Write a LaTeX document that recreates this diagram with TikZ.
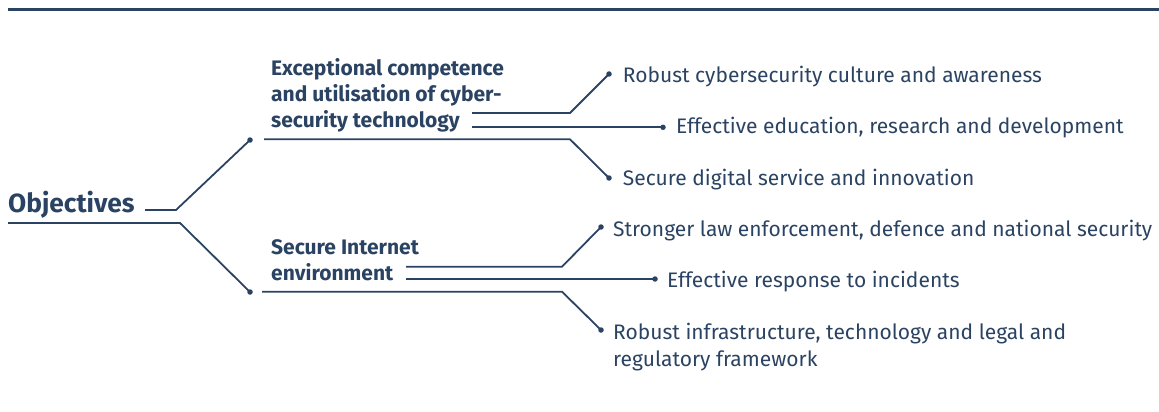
\documentclass[tikz,border=0pt]{standalone}
\usepackage{fontspec}
\setmainfont{Fira Sans}
\definecolor{navy}{HTML}{2B4362}
\begin{document}
\begin{tikzpicture}[x=1pt, y=-1pt,
  conn/.style={draw=navy, line width=1.8pt},
  rule/.style={draw=navy, line width=2.3pt},
  dotmark/.style={circle, fill=navy, inner sep=0pt, minimum size=5.5pt},
  leaf/.style={anchor=base west, inner sep=0pt, text=navy, align=left,
    font=\fontsize{21}{27}\selectfont},
  goal/.style={anchor=base west, inner sep=0pt, text=navy, align=left,
    font=\bfseries\fontsize{21}{25.75}\selectfont},
  root/.style={anchor=base west, inner sep=0pt, text=navy,
    font=\bfseries\fontsize{26.3}{32}\selectfont}]
\useasboundingbox (0,0) rectangle (1159,412);

% header rule
\coordinate (r0) at (8,9.5);
\coordinate (r1) at (1159,9.5);
\draw[rule] (r0) -- (r1);

% texts (multi-line nodes are placed by the baseline of their last line)
\node[root] (obj) at (8,212.7) {Objectives};
\node[goal] (g1) at (271,127) {Exceptional competence\\and utilisation of cyber-\\security technology};
\node[goal] (g2) at (271,280) {Secure Internet\\environment};

\node[leaf] (l1) at (622.7,82.3) {Robust cybersecurity culture and awareness};
\node[leaf] (l2) at (676,133.5) {Effective education, research and development};
\node[leaf] (l3) at (622.7,185) {Secure digital service and innovation};
\node[leaf] (l4) at (613,236.5) {Stronger law enforcement, defence and national security};
\node[leaf] (l5) at (667,287) {Effective response to incidents};
\node[leaf] (l6) at (613,366.3) {Robust infrastructure, technology and legal and\\regulatory framework};

% end dots
\node[dotmark] (dg1) at (250,140) {};
\node[dotmark] (dg2) at (250,292) {};
\node[dotmark] (e1) at (609,74) {};
\node[dotmark] (e2) at (663,127.3) {};
\node[dotmark] (e3) at (609,178) {};
\node[dotmark] (f1) at (601,227) {};
\node[dotmark] (f2) at (655,279) {};
\node[dotmark] (f3) at (601,330) {};

% root branches
\coordinate (o1) at (145,210);  \coordinate (o1k) at (176,210);
\coordinate (o2) at (8,223);    \coordinate (o2k) at (180,223);
\draw[conn] (o1) -- (o1k) -- (dg1.center);
\draw[conn] (o2) -- (o2k) -- (dg2.center);

% first objective branches
\coordinate (a1) at (472,113);   \coordinate (a1k) at (570,113);
\coordinate (a2) at (472,127.3);
\coordinate (a3) at (264,139.3); \coordinate (a3k) at (570,139.3);
\draw[conn] (a1) -- (a1k) -- (e1.center);
\draw[conn] (a2) -- (e2.center);
\draw[conn] (a3) -- (a3k) -- (e3.center);

% second objective branches
\coordinate (b1) at (406,266.7); \coordinate (b1k) at (562,266.7);
\coordinate (b2) at (406,279);
\coordinate (b3) at (262,291.7); \coordinate (b3k) at (562,291.7);
\draw[conn] (b1) -- (b1k) -- (f1.center);
\draw[conn] (b2) -- (f2.center);
\draw[conn] (b3) -- (b3k) -- (f3.center);
\end{tikzpicture}
\end{document}
